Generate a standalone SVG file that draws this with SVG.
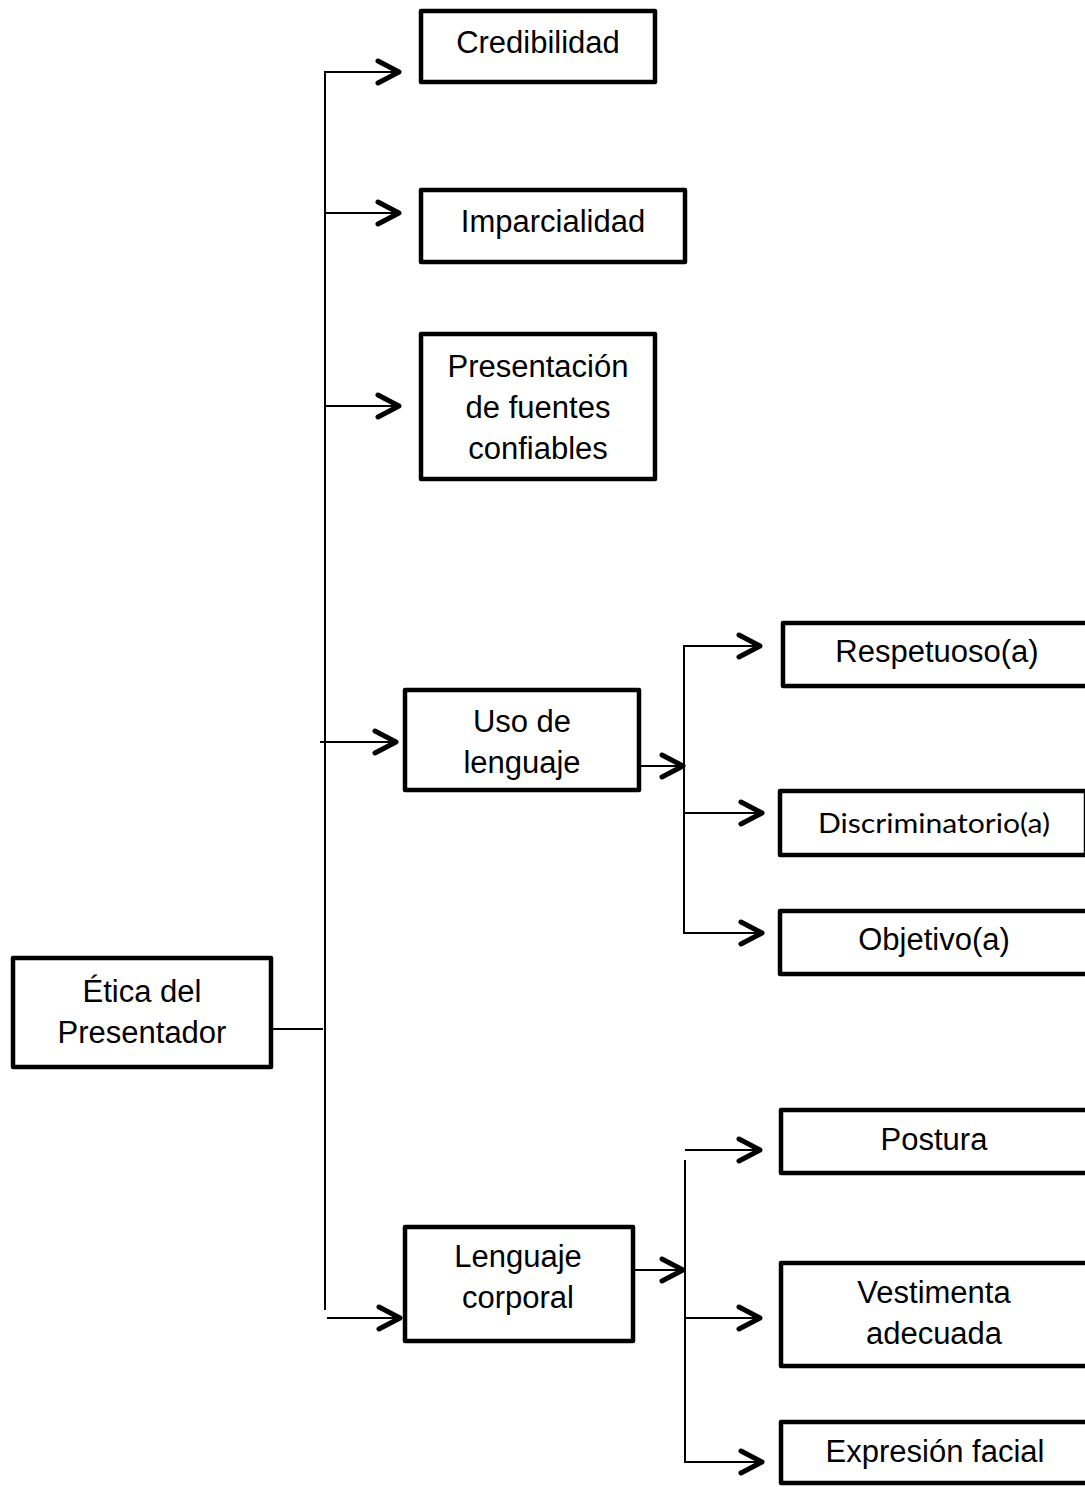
<svg xmlns="http://www.w3.org/2000/svg" width="1085" height="1487" viewBox="0 0 1085 1487">
  <style>
    .box { fill: #fff; stroke: #000; stroke-width: 4.5; stroke-linejoin: round; }
    .lbl { font-family: "Liberation Sans", Arial, sans-serif; font-size: 31px; fill: #000; text-anchor: middle; }
    .lbl2 { font-family: Lato, "Open Sans", sans-serif; font-size: 27px; fill: #000; text-anchor: middle; }
    .wire { fill: none; stroke: #000; stroke-width: 2; }
    .arrow { fill: none; stroke: #000; stroke-width: 2; marker-end: url(#chev); }
  </style>
  <defs>
    <marker id="chev" markerUnits="userSpaceOnUse" markerWidth="40" markerHeight="40" viewBox="-30 -20 40 40" refX="0" refY="0" orient="auto" overflow="visible">
      <path d="M-21,-11 L0,0 L-21,11" fill="none" stroke="#000" stroke-width="5" stroke-linecap="round" stroke-linejoin="round"/>
    </marker>
  </defs>
  <rect width="1085" height="1487" fill="#fff"/>

  <g id="connectors">
    <!-- main trunk -->
    <path class="wire" d="M325,71 V1310"/>
    <path class="wire" d="M273,1029 H323"/>
    <path class="arrow" d="M325,72 H399"/>
    <path class="arrow" d="M325,213 H399"/>
    <path class="arrow" d="M325,406 H399"/>
    <path class="arrow" d="M320,742 H396"/>
    <path class="arrow" d="M327,1318 H400"/>
    <!-- uso de lenguaje branch -->
    <path class="arrow" d="M633,766 H683"/>
    <path class="wire" d="M684,645 V934"/>
    <path class="arrow" d="M684,646 H760"/>
    <path class="arrow" d="M684,813 H762"/>
    <path class="arrow" d="M684,933 H762"/>
    <!-- lenguaje corporal branch -->
    <path class="arrow" d="M633,1270 H683"/>
    <path class="wire" d="M685,1160 V1463"/>
    <path class="arrow" d="M685,1150 H760"/>
    <path class="arrow" d="M685,1318 H760"/>
    <path class="arrow" d="M685,1462 H762"/>
  </g>

  <g id="etica">
    <rect class="box" x="13" y="958" width="258" height="109"/>
    <text class="lbl" x="142" y="1002">Ética del</text>
    <text class="lbl" x="142" y="1043">Presentador</text>
  </g>
  <g id="credibilidad">
    <rect class="box" x="421" y="11" width="234" height="71"/>
    <text class="lbl" x="538" y="53">Credibilidad</text>
  </g>
  <g id="imparcialidad">
    <rect class="box" x="421" y="190" width="264" height="72"/>
    <text class="lbl" x="553" y="232">Imparcialidad</text>
  </g>
  <g id="fuentes">
    <rect class="box" x="421" y="334" width="234" height="145"/>
    <text class="lbl" x="538" y="377">Presentación</text>
    <text class="lbl" x="538" y="418">de fuentes</text>
    <text class="lbl" x="538" y="459">confiables</text>
  </g>
  <g id="uso-lenguaje">
    <rect class="box" x="405" y="690" width="234" height="100"/>
    <text class="lbl" x="522" y="732">Uso de</text>
    <text class="lbl" x="522" y="773">lenguaje</text>
  </g>
  <g id="lenguaje-corporal">
    <rect class="box" x="405" y="1227" width="228" height="114"/>
    <text class="lbl" x="518" y="1267">Lenguaje</text>
    <text class="lbl" x="518" y="1308">corporal</text>
  </g>
  <g id="respetuoso">
    <rect class="box" x="783" y="623" width="310" height="63"/>
    <text class="lbl" x="937" y="662">Respetuoso(a)</text>
  </g>
  <g id="discriminatorio">
    <rect class="box" x="780" y="791" width="306" height="64"/>
    <text class="lbl2" x="934" y="833" textLength="232" lengthAdjust="spacingAndGlyphs">Discriminatorio(a)</text>
  </g>
  <g id="objetivo">
    <rect class="box" x="780" y="911" width="313" height="63"/>
    <text class="lbl" x="934" y="950">Objetivo(a)</text>
  </g>
  <g id="postura">
    <rect class="box" x="781" y="1110" width="312" height="63"/>
    <text class="lbl" x="934" y="1150">Postura</text>
  </g>
  <g id="vestimenta">
    <rect class="box" x="781" y="1263" width="312" height="103"/>
    <text class="lbl" x="934" y="1303">Vestimenta</text>
    <text class="lbl" x="934" y="1344">adecuada</text>
  </g>
  <g id="expresion">
    <rect class="box" x="781" y="1422" width="312" height="61"/>
    <text class="lbl" x="935" y="1462">Expresión facial</text>
  </g>
</svg>
